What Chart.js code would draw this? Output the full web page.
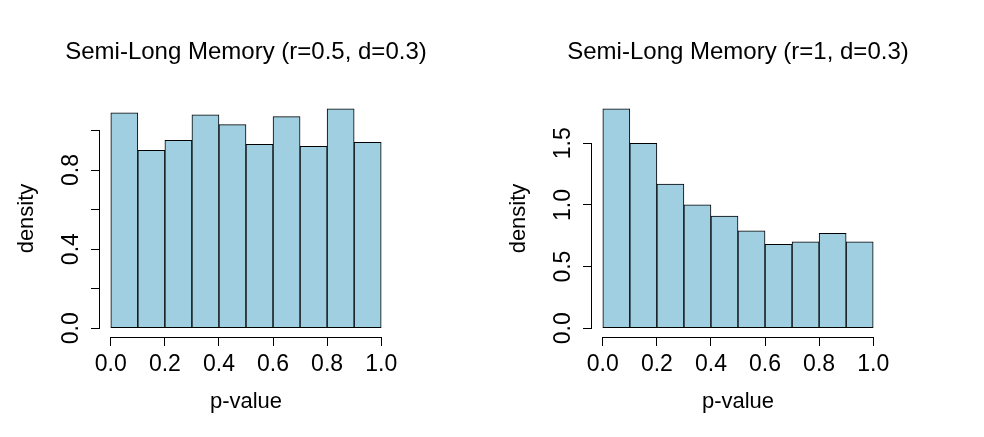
<!DOCTYPE html>
<html>
<head>
<meta charset="utf-8">
<script src="https://cdn.jsdelivr.net/npm/chart.js@4.4.1/dist/chart.umd.min.js"></script>
<style>
  html, body { margin: 0; padding: 0; background: #fff; }
  #wrap { display: flex; width: 984px; height: 437px; }
  .panel { position: relative; width: 492px; height: 437px; }
</style>
</head>
<body>
<div id="wrap">
  <div class="panel"><canvas id="histA"></canvas></div>
  <div class="panel"><canvas id="histB"></canvas></div>
</div>
<script>
// bin midpoints (bins 0.0-0.1, 0.1-0.2, ... 0.9-1.0)
const binMids = [0.05, 0.15, 0.25, 0.35, 0.45, 0.55, 0.65, 0.75, 0.85, 0.95];

// densities
const densityA = [1.09, 0.90, 0.95, 1.08, 1.03, 0.93, 1.07, 0.92, 1.11, 0.94];
const densityB = [1.78, 1.50, 1.17, 1.00, 0.91, 0.79, 0.68, 0.70, 0.77, 0.70];

const titleA = 'Semi-Long Memory (r=0.5, d=0.3)';
const titleB = 'Semi-Long Memory (r=1, d=0.3)';

const xTicks = [0, 0.2, 0.4, 0.6, 0.8, 1.0];
const yTicksA = [0, 0.2, 0.4, 0.6, 0.8, 1.0];
const yLabelsA = ['0.0', '', '0.4', '', '0.8', ''];
const yTicksB = [0, 0.5, 1.0, 1.5];
const yLabelsB = ['0.0', '0.5', '1.0', '1.5'];

const FONT = '"Liberation Sans", Arial, Helvetica, sans-serif';

// R-style decorations: axis lines between first and last tick, rotated y labels, titles
const rDecor = {
  id: 'rDecor',
  afterDraw(chart, args, opts) {
    const { ctx, chartArea } = chart;
    const xs = chart.scales.x, ys = chart.scales.y;
    ctx.save();
    ctx.strokeStyle = '#000';
    ctx.lineWidth = 1;
    ctx.beginPath();
    const bx = Math.round(chartArea.bottom) + 0.5;
    ctx.moveTo(xs.getPixelForValue(opts.xTicks[0]), bx);
    ctx.lineTo(xs.getPixelForValue(opts.xTicks[opts.xTicks.length - 1]), bx);
    const ly = Math.round(chartArea.left) - 0.5;
    ctx.moveTo(ly, ys.getPixelForValue(opts.yTicks[0]));
    ctx.lineTo(ly, ys.getPixelForValue(opts.yTicks[opts.yTicks.length - 1]));
    ctx.stroke();

    ctx.fillStyle = '#000';
    ctx.font = '23px ' + FONT;
    ctx.textAlign = 'center';
    ctx.textBaseline = 'alphabetic';
    opts.yTicks.forEach((v, i) => {
      const lab = opts.yLabels[i];
      if (!lab) return;
      ctx.save();
      ctx.translate(77.5, ys.getPixelForValue(v));
      ctx.rotate(-Math.PI / 2);
      ctx.fillText(lab, 0, 0);
      ctx.restore();
    });

    const cx = (chartArea.left + chartArea.right) / 2;
    const cy = (chartArea.top + chartArea.bottom) / 2;
    ctx.font = '22px ' + FONT;
    ctx.fillText('p-value', cx, 408);
    ctx.save();
    ctx.translate(33, cy);
    ctx.rotate(-Math.PI / 2);
    ctx.fillText('density', 0, 0);
    ctx.restore();

    ctx.font = '24px ' + FONT;
    ctx.fillText(opts.title, cx, 59);
    ctx.restore();
  }
};

function makeHist(id, values, title, yTicks, yLabels) {
  const ymax = Math.max(...values);
  const canvas = document.getElementById(id);
  return new Chart(canvas.getContext('2d'), {
    type: 'bar',
    data: {
      datasets: [{
        data: binMids.map((x, i) => ({ x, y: values[i] })),
        backgroundColor: '#9fcfe1',
        borderColor: '#000',
        borderWidth: 1,
        borderSkipped: false,
        barPercentage: 1,
        categoryPercentage: 1,
      }],
    },
    options: {
      responsive: true,
      maintainAspectRatio: false,
      animation: false,
      events: [],
      layout: { padding: { top: 100, right: 100, left: 0, bottom: 0 } },
      plugins: {
        legend: { display: false },
        tooltip: { enabled: false },
        rDecor: { title, xTicks, yTicks, yLabels },
      },
      scales: {
        x: {
          type: 'linear',
          offset: false,
          min: -0.04,
          max: 1.04,
          afterBuildTicks: (s) => { s.ticks = xTicks.map((v) => ({ value: v })); },
          afterFit: (s) => { s.height = 100; },
          border: { display: false },
          grid: { offset: false, drawOnChartArea: false, drawTicks: true, tickLength: 9, color: '#000' },
          ticks: {
            color: '#000',
            font: { family: FONT, size: 23 },
            padding: 5,
            maxRotation: 0,
            autoSkip: false,
            callback: (v) => Number(v).toFixed(1),
          },
        },
        y: {
          min: -0.04 * ymax,
          max: 1.04 * ymax,
          afterBuildTicks: (s) => { s.ticks = yTicks.map((v) => ({ value: v })); },
          afterFit: (s) => { s.width = 100; },
          border: { display: false },
          grid: { drawOnChartArea: false, drawTicks: true, tickLength: 9, color: '#000' },
          ticks: { display: false },
        },
      },
    },
    plugins: [rDecor],
  });
}

makeHist('histA', densityA, titleA, yTicksA, yLabelsA);
makeHist('histB', densityB, titleB, yTicksB, yLabelsB);
</script>
</body>
</html>
